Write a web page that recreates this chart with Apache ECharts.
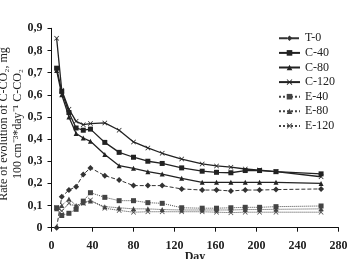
<!DOCTYPE html>
<html>
<head>
<meta charset="utf-8">
<script src="https://cdn.jsdelivr.net/npm/echarts@6/dist/echarts.min.js"></script>
<style>
  html, body { margin: 0; padding: 0; background: #fff; }
  #chart { width: 347px; height: 259px; }
</style>
</head>
<body>
<div id="chart"></div>
<script>
// sampling days (x)
const days = [5, 10, 17, 24, 31, 38, 52, 66, 80, 94, 108, 127, 147, 161, 175, 189, 203, 219, 263]

// rate of evolution of C-CO2 per series
const t0    = [0, 0.14, 0.17, 0.185, 0.24, 0.27, 0.235, 0.215, 0.19, 0.19, 0.19, 0.175, 0.17, 0.17, 0.166, 0.17, 0.17, 0.172, 0.175]
const c40   = [0.72, 0.615, 0.52, 0.45, 0.44, 0.445, 0.385, 0.34, 0.318, 0.3, 0.29, 0.27, 0.255, 0.25, 0.248, 0.258, 0.258, 0.253, 0.243]
const c80   = [0.71, 0.6, 0.5, 0.425, 0.405, 0.39, 0.33, 0.28, 0.268, 0.253, 0.242, 0.223, 0.205, 0.205, 0.205, 0.205, 0.205, 0.205, 0.2]
const c120  = [0.855, 0.62, 0.535, 0.48, 0.465, 0.47, 0.473, 0.44, 0.387, 0.36, 0.336, 0.31, 0.288, 0.279, 0.273, 0.265, 0.26, 0.253, 0.23]
const e40   = [0.09, 0.055, 0.065, 0.083, 0.12, 0.158, 0.137, 0.122, 0.122, 0.113, 0.11, 0.09, 0.088, 0.088, 0.09, 0.092, 0.092, 0.095, 0.098]
const e80   = [0.085, 0.1, 0.13, 0.1, 0.113, 0.12, 0.095, 0.09, 0.085, 0.085, 0.082, 0.08, 0.08, 0.08, 0.08, 0.082, 0.082, 0.083, 0.085]
const e120  = [0.09, 0.075, 0.11, 0.095, 0.11, 0.125, 0.088, 0.078, 0.07, 0.072, 0.072, 0.072, 0.072, 0.07, 0.068, 0.07, 0.07, 0.07, 0.07]

const xTicks = [0, 40, 80, 120, 160, 200, 240, 280]

const FONT = 'Liberation Serif'
const X_MARK = 'path://M0,1L1,0L5,4L9,0L10,1L6,5L10,9L9,10L5,6L1,10L0,9L4,5Z'

const pairs = arr => days.map((d, i) => [d, arr[i]])

const mk = (name, arr, symbol, size, lineType, color) => ({
  name,
  type: 'line',
  data: pairs(arr),
  symbol,
  symbolSize: size,
  showSymbol: true,
  lineStyle: { color, width: lineType === 'solid' ? 1.3 : 1, type: lineType },
  itemStyle: { color },
  emphasis: { disabled: true }
})

const chart = echarts.init(document.getElementById('chart'))
chart.setOption({
  animation: false,
  textStyle: { fontFamily: FONT },
  grid: { left: 51.5, right: 8.5, top: 28.3, bottom: 31.3, outerBoundsMode: 'none', containLabel: false },
  legend: {
    orient: 'vertical',
    left: 273,
    top: 26,
    itemWidth: 21,
    itemHeight: 7,
    itemGap: 0,
    textStyle: { fontFamily: FONT, fontSize: 12, color: '#222', lineHeight: 14.6 },
    data: ['T-0', 'C-40', 'C-80', 'C-120', 'E-40', 'E-80', 'E-120']
  },
  xAxis: {
    type: 'value',
    min: 0,
    max: 280,
    interval: 40,
    name: 'Day',
    nameLocation: 'middle',
    nameGap: 23,
    nameMoveOverlap: false,
    nameTextStyle: { fontFamily: FONT, fontSize: 12, color: '#222', fontWeight: 'bold' },
    axisLine: { lineStyle: { color: '#111', width: 1 } },
    axisTick: { show: true, length: 4, lineStyle: { color: '#111' } },
    axisLabel: {
      fontFamily: FONT, fontSize: 12, color: '#222', fontWeight: 'bold', margin: 12,
      formatter: v => xTicks.includes(v) ? String(v) : ''
    },
    splitLine: { show: false }
  },
  yAxis: {
    type: 'value',
    min: 0,
    max: 0.9,
    interval: 0.1,
    name: 'Rate of evolution of C-CO\u2082, mg\n100 cm\u207B\u00B3*day\u207B\u00B9 C-CO\u2082',
    nameLocation: 'middle',
    nameGap: 27,
    nameMoveOverlap: false,
    nameTextStyle: { fontFamily: FONT, fontSize: 12, color: '#222', lineHeight: 13.5, padding: [0, 0, 0, 8] },
    axisLine: { show: true, lineStyle: { color: '#111', width: 1 } },
    axisTick: { show: true, length: 4, lineStyle: { color: '#111' } },
    axisLabel: {
      fontFamily: FONT, fontSize: 12, color: '#222', fontWeight: 'bold', margin: 9,
      formatter: v => v === 0 ? '0' : v.toFixed(1).replace('.', ',')
    },
    splitLine: { show: false }
  },
  series: [
    mk('T-0', t0, 'diamond', 6, 'dashed', '#333'),
    mk('C-40', c40, 'rect', 5, 'solid', '#222'),
    mk('C-80', c80, 'triangle', 5, 'solid', '#222'),
    mk('C-120', c120, X_MARK, 5, 'solid', '#222'),
    mk('E-40', e40, 'rect', 5, 'dotted', '#444'),
    mk('E-80', e80, 'triangle', 5, 'dotted', '#444'),
    mk('E-120', e120, X_MARK, 5, 'dotted', '#444')
  ]
})
</script>
</body>
</html>
